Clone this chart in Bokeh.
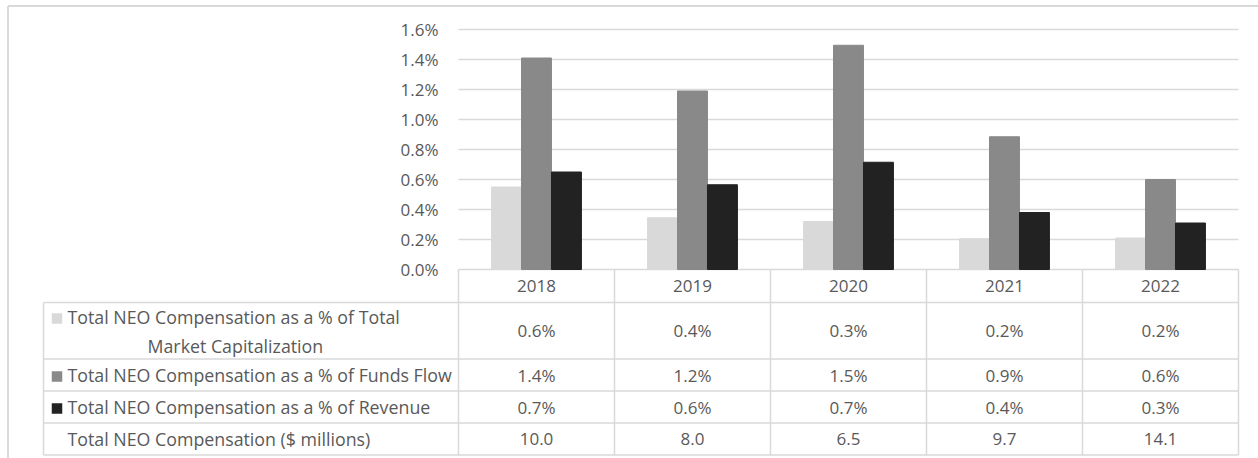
from bokeh.plotting import figure
from bokeh.models import Range1d, ColumnDataSource
from bokeh.transform import dodge
from bokeh.embed import file_html
from bokeh.resources import INLINE
from bokeh.core.properties import value

# ---------------- data ----------------
years = ["2018", "2019", "2020", "2021", "2022"]
pct_market_cap = [0.55, 0.345, 0.32, 0.205, 0.21]
pct_funds_flow = [1.41, 1.19, 1.495, 0.885, 0.60]
pct_revenue = [0.65, 0.565, 0.715, 0.38, 0.31]
table_market_cap = ["0.6%", "0.4%", "0.3%", "0.2%", "0.2%"]
table_funds_flow = ["1.4%", "1.2%", "1.5%", "0.9%", "0.6%"]
table_revenue = ["0.7%", "0.6%", "0.7%", "0.4%", "0.3%"]
total_comp_millions = [10.0, 8.0, 6.5, 9.7, 14.1]
series_names = [
    "Total NEO Compensation as a % of Total Market Capitalization",
    "Total NEO Compensation as a % of Funds Flow",
    "Total NEO Compensation as a % of Revenue",
]
total_row_name = "Total NEO Compensation ($ millions)"
y_ticks = [0.0, 0.2, 0.4, 0.6, 0.8, 1.0, 1.2, 1.4, 1.6]

# ---------------- style / layout ----------------
FONT = value("Open Sans")
TXT = "#595959"
LINE = "#d9d9d9"
COLORS = ["#d9d9d9", "#898989", "#222222"]
NCAT = len(years)
W, H = 1258, 458
PLOT_L = 458             # x of plot-area left edge (px)
CW = 156                 # category width (px)
ZERO_Y = 269             # y of 0 % (px)
PX_PER_UNIT = 150        # px per 1 %
FS_NUM = "17px"
FS_HDR = "17.8px"


def ux(px):
    """canvas x (px) -> category units"""
    return (px - PLOT_L) / CW


def uy(py):
    """canvas y (px) -> percent units"""
    return (ZERO_Y - py) / PX_PER_UNIT


p = figure(width=W, height=H,
           x_range=Range1d(ux(0), ux(W)),
           y_range=Range1d(uy(H), uy(0)),
           output_backend="svg", toolbar_location=None,
           x_axis_location=None, y_axis_location=None, min_border=0)
p.outline_line_color = None
p.grid.visible = False
p.background_fill_color = "white"

# outer frame (top and left edges)
p.segment(x0=[ux(7.5), ux(7.5)], x1=[ux(W), ux(7.5)],
          y0=[uy(5.5), uy(5.5)], y1=[uy(5.5), uy(H)],
          line_color=LINE, line_width=2)

# horizontal gridlines
p.segment(x0=[0] * len(y_ticks), x1=[NCAT] * len(y_ticks), y0=y_ticks, y1=y_ticks,
          line_color=LINE, line_width=1.5)

# y tick labels
p.text(x=[ux(438)] * len(y_ticks), y=y_ticks, text=[f"{v:.1f}%" for v in y_ticks],
       text_align="right", text_baseline="middle", text_font=FONT,
       text_font_size=FS_NUM, text_color=TXT)

# bars
centres = [i + 0.5 for i in range(NCAT)]
src = ColumnDataSource(dict(xc=centres, year=years, mc=pct_market_cap,
                            ff=pct_funds_flow, rv=pct_revenue))
bw = 0.192
for key, off, col in zip(["mc", "ff", "rv"], [-bw, 0.0, bw], COLORS):
    p.vbar(x=dodge("xc", off), top=key, width=bw, bottom=0, source=src,
           fill_color=col, line_color=col)

# ---------------- data table ----------------
row_lines_px = [302, 358.5, 390.5, 422.5, 454.5]
row_centres_px = [330, 374.5, 406.5, 438.5]
TABLE_L = 43
col_bounds = list(range(NCAT + 1))

# horizontal table lines
p.segment(x0=[ux(TABLE_L)] * len(row_lines_px), x1=[NCAT] * len(row_lines_px),
          y0=[uy(v) for v in row_lines_px], y1=[uy(v) for v in row_lines_px],
          line_color=LINE, line_width=1.5)
# vertical table lines
p.segment(x0=[ux(TABLE_L)] + col_bounds, x1=[ux(TABLE_L)] + col_bounds,
          y0=[uy(row_lines_px[0])] + [0] * len(col_bounds),
          y1=[uy(row_lines_px[-1])] * (len(col_bounds) + 1),
          line_color=LINE, line_width=1.5)

# year header row
p.text(x=centres, y=[uy(285.5)] * NCAT, text=years, text_align="center",
       text_baseline="middle", text_font=FONT, text_font_size=FS_NUM, text_color=TXT)

# cell values
rows = [table_market_cap, table_funds_flow, table_revenue,
        [f"{v:.1f}" for v in total_comp_millions]]
cx, cy, ct = [], [], []
for r, vals in enumerate(rows):
    for i, v in enumerate(vals):
        cx.append(centres[i])
        cy.append(uy(row_centres_px[r]))
        ct.append(v)
p.text(x=cx, y=cy, text=ct, text_align="center", text_baseline="middle",
       text_font=FONT, text_font_size=FS_NUM, text_color=TXT)

# row headers
words = series_names[0].split(" ")
name1_a = " ".join(words[:-2])
name1_b = " ".join(words[-2:])
hdr_y = [316.5, row_centres_px[1], row_centres_px[2], row_centres_px[3]]
p.text(x=[ux(67)] * 4, y=[uy(v) for v in hdr_y],
       text=[name1_a, series_names[1], series_names[2], total_row_name],
       text_align="left", text_baseline="middle", text_font=FONT,
       text_font_size=FS_HDR, text_color=TXT)
p.text(x=[ux(147)], y=[uy(345)], text=[name1_b], text_align="left",
       text_baseline="middle", text_font=FONT, text_font_size=FS_HDR, text_color=TXT)

# legend keys
p.scatter(x=[ux(56.5)] * 3, y=[uy(v + 1.5) for v in hdr_y[:3]], marker="square",
          size=10.5, fill_color=COLORS, line_color=None)

open("out.html", "w").write(file_html(p, INLINE))
